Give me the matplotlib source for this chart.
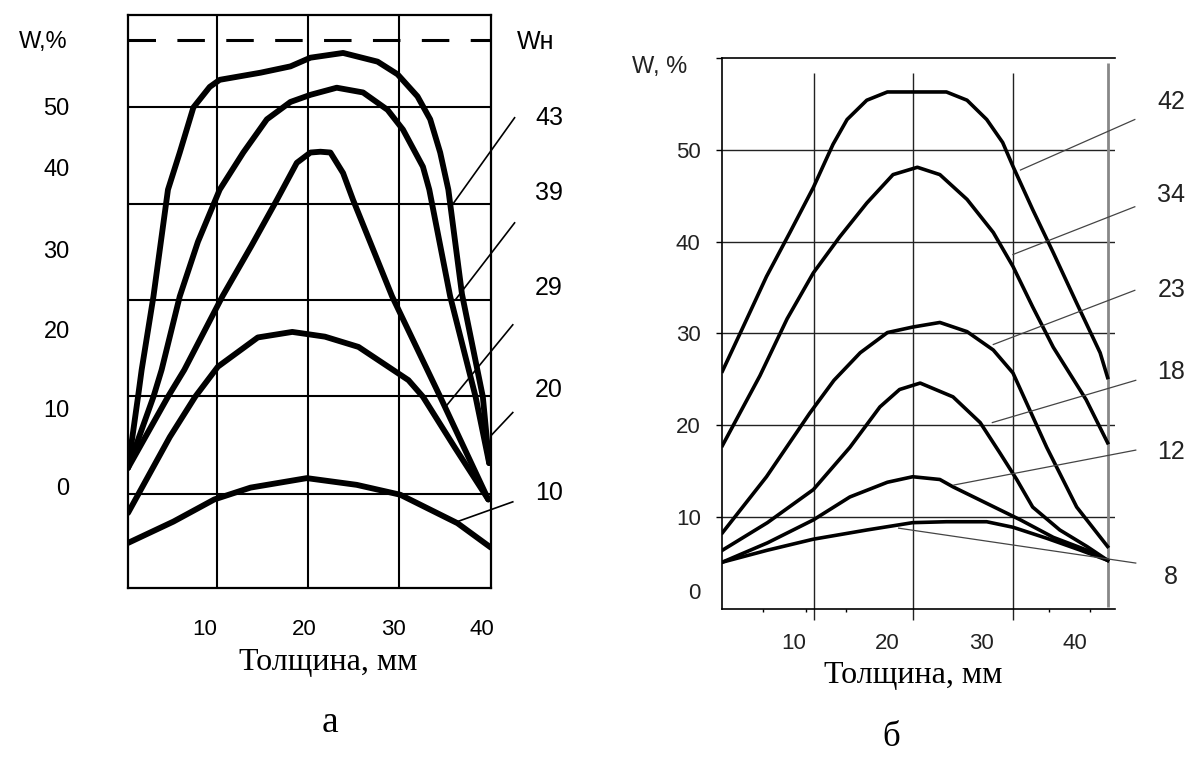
import matplotlib
matplotlib.use('Agg')
import matplotlib.pyplot as plt

plt.rcParams['font.family'] = ['Liberation Sans', 'DejaVu Sans']

# ---------- panel "а" (left) ----------
a43_x = [0, 1.1, 1.5, 2.8, 4.4, 5.7, 7.2, 9.0, 10.1, 14.6, 17.9, 20.1, 23.7, 27.5, 29.7, 31.9, 33.3, 34.4, 35.3, 36.8, 39.1, 39.8]
a43_w = [2.4, 11.4, 14.8, 24.1, 37.6, 42.3, 48.0, 50.6, 51.5, 52.4, 53.2, 54.3, 54.9, 53.8, 52.2, 49.4, 46.5, 42.3, 37.6, 24.4, 11.4, 3.0]

a39_x = [0, 2.8, 3.7, 5.7, 7.7, 10.1, 12.7, 15.3, 17.9, 20.1, 23.0, 25.9, 28.6, 30.3, 32.5, 33.2, 35.5, 38.3, 39.8]
a39_w = [2.4, 11.4, 14.8, 24.1, 31.0, 37.6, 42.3, 46.5, 48.7, 49.6, 50.5, 49.9, 47.7, 45.2, 40.5, 37.6, 24.1, 11.4, 3.0]

a29_x = [0, 4.4, 6.2, 10.4, 13.6, 16.4, 18.6, 20.1, 21.2, 22.3, 23.7, 24.8, 29.1, 34.4, 39.7]
a29_w = [2.4, 11.4, 14.8, 24.1, 30.5, 36.3, 41.0, 42.3, 42.4, 42.3, 39.7, 36.3, 24.1, 11.4, -1.6]

a20_x = [0, 4.6, 7.4, 9.9, 14.3, 18.1, 21.7, 25.4, 30.9, 32.5, 36.0, 39.7]
a20_w = [-3.3, 6.3, 11.4, 15.2, 18.9, 19.6, 19.0, 17.7, 13.5, 11.4, 5.0, -1.6]

a10_x = [0, 5.0, 9.5, 13.5, 19.7, 25.2, 30.0, 36.3, 40.0]
a10_w = [-7.1, -4.4, -1.6, -0.1, 1.1, 0.25, -1.0, -4.6, -7.7]

a_curves = [(a43_x, a43_w), (a39_x, a39_w), (a29_x, a29_w), (a20_x, a20_w), (a10_x, a10_w)]
a_names = ['43', '39', '29', '20', '10']
a_name_w = [46.7, 37.2, 25.2, 12.3, -0.8]
a_lead_from = [(42.6, 46.7), (42.6, 33.4), (42.4, 20.5), (42.4, 9.4), (42.4, -1.9)]
a_lead_to = [(35.5, 35.3), (36.1, 23.7), (34.9, 10.0), (40.1, 6.6), (36.3, -4.4)]

a_grid_w = [48.0, 35.8, 23.7, 11.5, -0.9]
a_grid_x = [9.8, 19.8, 29.9]
a_wn = 56.5
a_ytick_pos = [0, 9.9, 19.9, 30.0, 40.4, 48.1]
a_ytick_lab = ['0', '10', '20', '30', '40', '50']
a_xtick_pos = [8.5, 19.4, 29.2, 39.0]
a_xtick_lab = ['10', '20', '30', '40']

# ---------- panel "б" (right) ----------
b42_x = [2.4, 4.6, 7.1, 9.6, 12.1, 14.2, 15.7, 17.8, 20.0, 22.7, 26.3, 28.5, 30.6, 32.3, 33.4, 35.5, 37.7, 40.2, 42.7, 43.5]
b42_w = [25.9, 30.7, 36.2, 41.0, 45.9, 50.6, 53.3, 55.4, 56.3, 56.3, 56.3, 55.4, 53.3, 50.8, 48.2, 43.5, 38.8, 33.3, 27.9, 25.2]

b34_x = [2.4, 6.4, 9.3, 12.1, 14.9, 17.8, 20.6, 23.2, 25.6, 28.5, 31.3, 33.4, 35.5, 37.7, 41.2, 43.5]
b34_w = [17.8, 25.4, 31.6, 36.6, 40.5, 44.2, 47.3, 48.1, 47.3, 44.6, 41.0, 37.3, 32.9, 28.5, 22.8, 18.1]

b23_x = [2.4, 7.1, 11.7, 14.3, 17.1, 20.0, 22.7, 25.6, 28.5, 31.3, 33.4, 37.0, 40.2, 43.5]
b23_w = [8.3, 14.4, 21.3, 24.9, 27.9, 30.1, 30.7, 31.2, 30.2, 28.2, 25.7, 17.6, 11.1, 6.8]

b18_x = [2.4, 7.2, 12.1, 16.0, 19.2, 21.3, 23.5, 27.0, 29.9, 32.0, 33.8, 35.5, 38.4, 41.3, 43.5]
b18_w = [6.4, 9.4, 13.0, 17.6, 22.0, 23.9, 24.6, 23.1, 20.3, 17.0, 14.1, 11.1, 8.6, 6.8, 5.3]

b12_x = [2.4, 7.2, 12.1, 16.0, 20.0, 22.7, 25.6, 27.0, 30.6, 34.2, 37.7, 41.3, 43.5]
b12_w = [5.1, 7.2, 9.7, 12.2, 13.8, 14.4, 14.1, 13.3, 11.5, 9.7, 7.8, 6.4, 5.3]

b8_x = [2.4, 7.2, 12.1, 17.8, 22.7, 26.3, 30.6, 33.4, 37.0, 40.6, 43.5]
b8_w = [5.1, 6.4, 7.6, 8.6, 9.4, 9.5, 9.5, 8.9, 7.7, 6.4, 5.3]

b_curves = [(b42_x, b42_w), (b34_x, b34_w), (b23_x, b23_w), (b18_x, b18_w), (b12_x, b12_w), (b8_x, b8_w)]
b_names = ['42', '34', '23', '18', '12', '8']
b_name_w = [55.2, 45.1, 34.7, 25.8, 17.1, 3.5]
b_lead_from = [(46.4, 53.3), (46.4, 43.8), (46.4, 34.7), (46.5, 24.9), (46.5, 17.3), (46.5, 5.0)]
b_lead_to = [(34.2, 47.8), (33.4, 38.6), (31.3, 28.8), (31.2, 20.3), (27.1, 13.5), (21.2, 8.8)]

b_grid_w = [10, 20, 30, 40, 50]
b_grid_x = [12.17, 22.73, 33.4]
b_ytick_pos = [2, 10, 20, 30, 40, 50, 60]
b_ytick_lab = ['0', '10', '20', '30', '40', '50', '']
b_xtick_pos = [10, 20, 30, 40]
b_xtick_lab = ['10', '20', '30', '40']
b_minor_x = [6.7, 11.3, 15.6, 37.2, 41.6]
b_edge_x = 43.54

fig = plt.figure(figsize=(11.9, 7.58), dpi=100)

# left panel
ax1 = fig.add_axes([0.1076, 0.2243, 0.3050, 0.7559])
ax1.set_xlim(0, 40)
ax1.set_ylim(-12.8, 59.7)
for s in ax1.spines.values():
    s.set_linewidth(1.6)
ax1.hlines(a_grid_w, 0, 40, color='black', lw=1.5)
ax1.vlines(a_grid_x, -12.8, 59.7, color='black', lw=1.5)
ax1.plot([0, 40], [a_wn, a_wn], color='black', lw=2.2, dashes=(9, 7))
for x, w in a_curves:
    ax1.plot(x, w, color='black', lw=4.2, solid_joinstyle='round', solid_capstyle='round')
for name, yw, p0, p1 in zip(a_names, a_name_w, a_lead_from, a_lead_to):
    ax1.plot([p0[0], p1[0]], [p0[1], p1[1]], color='black', lw=1.2, clip_on=False)
    ax1.text(46.4, yw, name, ha='center', va='center', fontsize=18, clip_on=False)
ax1.text(44.9, 56.3, 'Wн', ha='center', va='center', fontsize=18, clip_on=False)
ax1.text(-9.4, 56.3, 'W,%', ha='center', va='center', fontsize=17, clip_on=False)
ax1.set_yticks(a_ytick_pos, a_ytick_lab)
ax1.set_xticks(a_xtick_pos, a_xtick_lab)
ax1.tick_params(axis='y', length=0, pad=42, labelsize=17)
ax1.tick_params(axis='x', length=0, pad=22, labelsize=16)
ax1.text(22.1, -22.2, 'Толщина, мм', family='Liberation Serif', fontsize=23,
         ha='center', va='center', clip_on=False)
ax1.text(22.3, -29.9, 'а', family='Liberation Serif', fontsize=27,
         ha='center', va='center', clip_on=False)

# right panel
ax2 = fig.add_axes([0.6067, 0.1966, 0.3303, 0.7269])
ax2.set_xlim(2.35, 44.29)
ax2.set_ylim(0, 60)
ax2.spines['right'].set_visible(False)
for side in ['left', 'top', 'bottom']:
    ax2.spines[side].set_linewidth(1.2)
ax2.hlines(b_grid_w, 2.35, 44.29, color='#222222', lw=1.0)
ax2.vlines(b_grid_x, -1.2, 58.4, color='#222222', lw=1.0, clip_on=False)
ax2.vlines([b_edge_x], 0.2, 59.5, color='#888888', lw=2.0)
for x, w in b_curves:
    ax2.plot(x, w, color='black', lw=2.6, solid_joinstyle='round')
for name, yw, p0, p1 in zip(b_names, b_name_w, b_lead_from, b_lead_to):
    ax2.plot([p0[0], p1[0]], [p0[1], p1[1]], color='#444444', lw=0.9, clip_on=False)
    ax2.text(50.3, yw, name, ha='center', va='center', fontsize=18, color='#222222', clip_on=False)
ax2.text(-4.3, 59.0, 'W, %', ha='center', va='center', fontsize=17, color='#222222', clip_on=False)
ax2.set_yticks(b_ytick_pos, b_ytick_lab)
ax2.set_xticks(b_xtick_pos, b_xtick_lab)
ax2.set_xticks(b_minor_x, minor=True)
ax2.tick_params(axis='y', length=4.3, width=1.0, pad=11, labelsize=16, labelcolor='#222222')
ax2.yaxis.get_major_ticks()[0].tick1line.set_visible(False)
ax2.tick_params(axis='x', which='major', length=0, pad=17, labelsize=16, labelcolor='#222222')
ax2.tick_params(axis='x', which='minor', length=2.5, width=1.0)
ax2.text(22.8, -7.2, 'Толщина, мм', family='Liberation Serif', fontsize=23,
         ha='center', va='center', clip_on=False)
ax2.text(20.4, -14.0, 'б', family='Liberation Serif', fontsize=25,
         ha='center', va='center', clip_on=False)

fig.savefig('out.png', dpi=100)
